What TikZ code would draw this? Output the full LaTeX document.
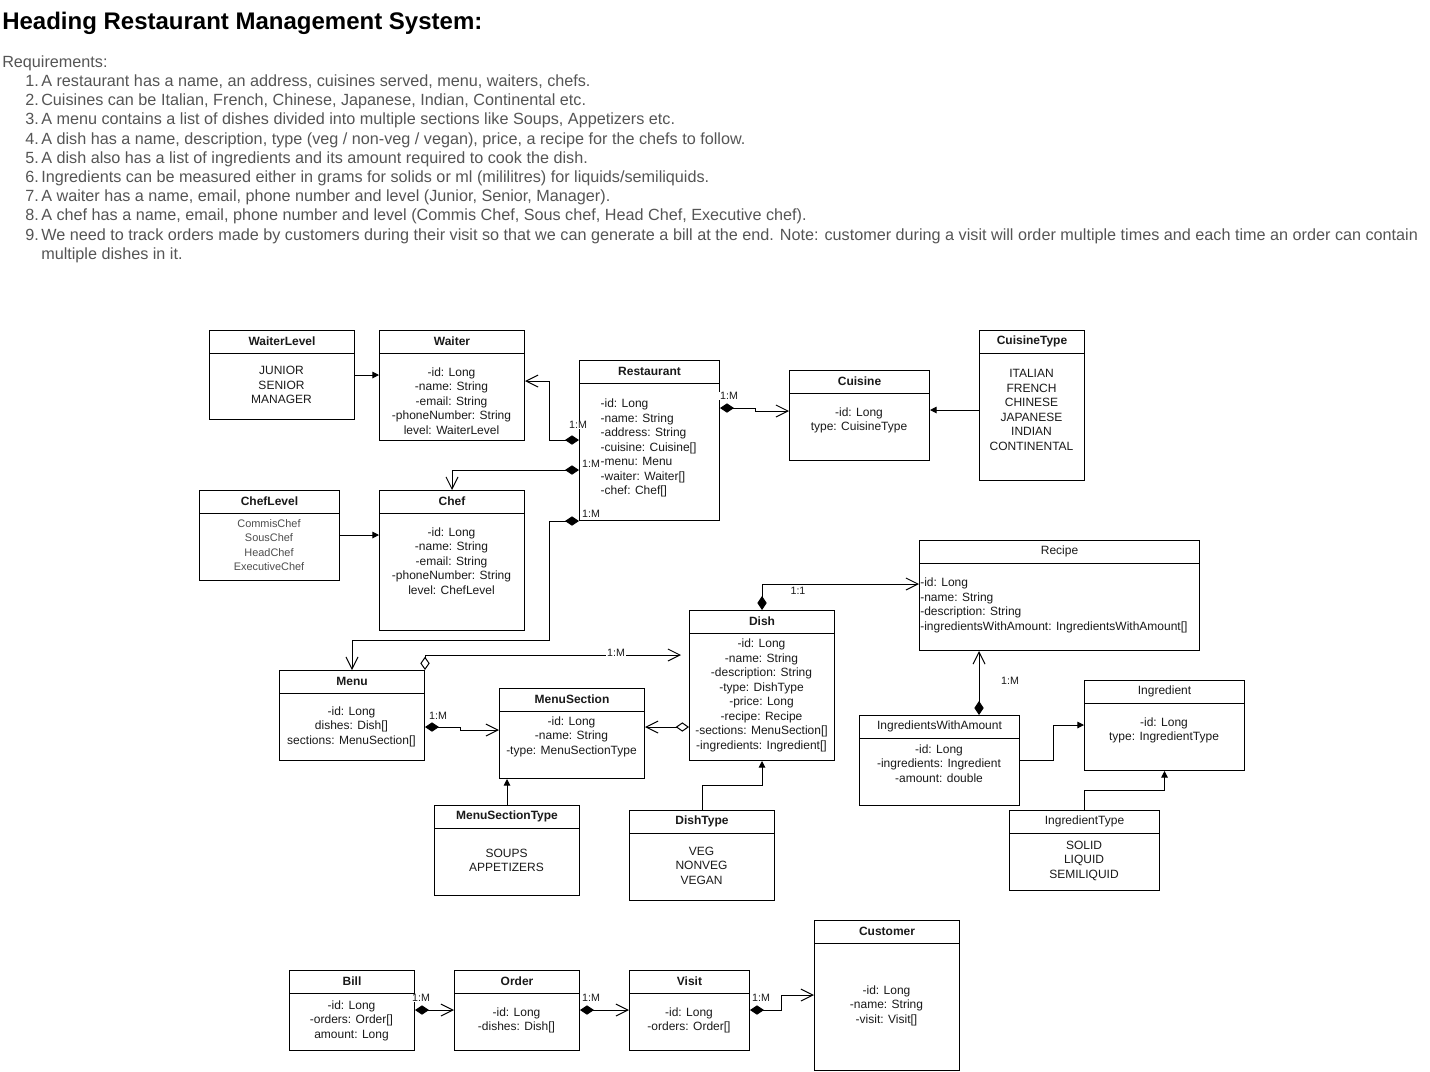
\documentclass[tikz,border=0pt]{standalone}
\usepackage{fontspec}
\setmainfont{Liberation Sans}
\usetikzlibrary{arrows.meta,calc}
\definecolor{reqgray}{HTML}{555555}
\definecolor{ink}{HTML}{1A1A1A}
\definecolor{lvlgray}{HTML}{4D4D4D}
\newcommand\umlbox[6]{%
  \node[box, anchor=north west, minimum width={(#4-#2)*0.75pt}, minimum height={(#5-#3)*0.75pt}] (#1) at (#2,#3) {};
  \draw[line width=0.75pt] ($(#1.north west)+(0,23)$) -- ($(#1.north east)+(0,23)$);
  \node[ttl] (#1-t) at ($(#1.north)+(0,11.5)$) {#6};
}
\begin{document}
\begin{tikzpicture}[x=0.75pt,y=-0.75pt,
  box/.style={draw, line width=0.75pt, inner sep=0pt, fill=white},
  ttl/.style={font=\fontsize{9}{10.9}\selectfont, text=ink, inner sep=0pt},
  txt/.style={font=\fontsize{9}{10.9}\selectfont, text=ink, align=center, inner sep=0pt},
  lvltxt/.style={font=\fontsize{8.2}{10.9}\selectfont, text=lvlgray, align=center, inner sep=0pt},
  lbl/.style={font=\fontsize{8}{9}\selectfont, text=ink, fill=white, inner sep=0.6pt},
  req/.style={font=\fontsize{12.15}{14}\selectfont, text=reqgray, anchor=base west, inner sep=0pt},
  conn/.style={line width=0.75pt, draw=black},
  oarr/.style={-{Straight Barb[length=9pt,width=9pt,line width=0.75pt]}},
  farr/.style={-{Triangle[length=5pt,width=5pt]}},
  comp/.style={{Diamond[length=10.5pt,width=7pt]}-{Straight Barb[length=9pt,width=9pt,line width=0.75pt]}},
  agg/.style={{Diamond[open,length=10pt,width=7pt,line width=0.75pt]}-{Straight Barb[length=9pt,width=9pt,line width=0.75pt]}}
]
\useasboundingbox[fill=white] (0,0) rectangle (1430,1071);

% ---------- heading and requirements ----------
\node[font=\fontsize{18}{20}\selectfont\bfseries, anchor=base west, inner sep=0pt] (head) at (2,29) {Heading Restaurant Management System:};
\node[req] (rq) at (2,67) {Requirements:};
\node[req] (n1) at (25,86) {1.}; \node[req] (r1) at (41,86) {A restaurant has a name, an address, cuisines served, menu, waiters, chefs.};
\node[req] (n2) at (25,105) {2.}; \node[req] (r2) at (41,105) {Cuisines can be Italian, French, Chinese, Japanese, Indian, Continental etc.};
\node[req] (n3) at (25,124) {3.}; \node[req] (r3) at (41,124) {A menu contains a list of dishes divided into multiple sections like Soups, Appetizers etc.};
\node[req] (n4) at (25,144) {4.}; \node[req] (r4) at (41,144) {A dish has a name, description, type (veg / non-veg / vegan), price, a recipe for the chefs to follow.};
\node[req] (n5) at (25,163) {5.}; \node[req] (r5) at (41,163) {A dish also has a list of ingredients and its amount required to cook the dish.};
\node[req] (n6) at (25,182) {6.}; \node[req] (r6) at (41,182) {Ingredients can be measured either in grams for solids or ml (mililitres) for liquids/semiliquids.};
\node[req] (n7) at (25,201) {7.}; \node[req] (r7) at (41,201) {A waiter has a name, email, phone number and level (Junior, Senior, Manager).};
\node[req] (n8) at (25,220) {8.}; \node[req] (r8) at (41,220) {A chef has a name, email, phone number and level (Commis Chef, Sous chef, Head Chef, Executive chef).};
\node[req] (n9) at (25,240) {9.}; \node[req] (r9) at (41,240) {We need to track orders made by customers during their visit so that we can generate a bill at the end. Note: customer during a visit will order multiple times and each time an order can contain};
\node[req] (r9b) at (41,259) {multiple dishes in it.};

% ---------- classes ----------
\umlbox{wlvl}{209}{330}{354}{419}{\textbf{WaiterLevel}}
\node[txt] (wlvl-b) at (281.5,385) {JUNIOR\\SENIOR\\MANAGER};

\umlbox{waiter}{379}{330}{524}{440}{\textbf{Waiter}}
\node[txt] (waiter-b) at (451.5,401) {-id: Long\\-name: String\\-email: String\\-phoneNumber: String\\level: WaiterLevel};

\umlbox{rest}{579}{360}{719}{520}{\textbf{Restaurant}}
\node[txt, align=left] (rest-b) at (648.5,448) {-id: Long\\-name: String\\-address: String\\-cuisine: Cuisine[]\\-menu: Menu\\-waiter: Waiter[]\\-chef: Chef[]};

\umlbox{cuisine}{789}{370}{929}{460}{\textbf{Cuisine}}
\node[txt] (cuisine-b) at (859,420.5) {-id: Long\\type: CuisineType};

\umlbox{ctype}{979}{330}{1084}{480}{\textbf{CuisineType}}
\node[txt] (ctype-b) at (1031.5,410) {ITALIAN\\FRENCH\\CHINESE\\JAPANESE\\INDIAN\\CONTINENTAL};

\umlbox{clvl}{199}{490}{339}{580}{\textbf{ChefLevel}}
\node[lvltxt] (clvl-b) at (269,545) {CommisChef\\SousChef\\HeadChef\\ExecutiveChef};

\umlbox{chef}{379}{490}{524}{630}{\textbf{Chef}}
\node[txt] (chef-b) at (451.5,561) {-id: Long\\-name: String\\-email: String\\-phoneNumber: String\\level: ChefLevel};

\umlbox{recipe}{919}{540}{1199}{650}{Recipe}
\node[txt, align=left, anchor=west] (recipe-b) at (920,605.5) {-id: Long\\-name: String\\-description: String\\-ingredientsWithAmount: IngredientsWithAmount[]};

\umlbox{dish}{689}{610}{834}{760}{\textbf{Dish}}
\node[txt] (dish-b) at (761.5,695.5) {-id: Long\\-name: String\\-description: String\\-type: DishType\\-price: Long\\-recipe: Recipe\\-sections: MenuSection[]\\-ingredients: Ingredient[]};

\umlbox{menu}{279}{670}{424}{760}{\textbf{Menu}}
\node[txt] (menu-b) at (351.5,726.5) {-id: Long\\dishes: Dish[]\\sections: MenuSection[]};

\umlbox{msec}{499}{688}{644}{778}{\textbf{MenuSection}}
\node[txt] (msec-b) at (571.5,736.5) {-id: Long\\-name: String\\-type: MenuSectionType};

\umlbox{mst}{434}{805}{579}{895}{\textbf{MenuSectionType}}
\node[txt] (mst-b) at (506.5,860.5) {SOUPS\\APPETIZERS};

\umlbox{dtype}{629}{810}{774}{900}{\textbf{DishType}}
\node[txt] (dtype-b) at (701.5,865.5) {VEG\\NONVEG\\VEGAN};

\umlbox{iwa}{859}{715}{1019}{805}{IngredientsWithAmount}
\node[txt] (iwa-b) at (939,763.5) {-id: Long\\-ingredients: Ingredient\\-amount: double};

\umlbox{ingr}{1084}{680}{1244}{770}{Ingredient}
\node[txt] (ingr-b) at (1164,730.5) {-id: Long\\type: IngredientType};

\umlbox{itype}{1009}{810}{1159}{890}{IngredientType}
\node[txt] (itype-b) at (1084,860.5) {SOLID\\LIQUID\\SEMILIQUID};

\umlbox{cust}{814}{920}{959}{1070}{\textbf{Customer}}
\node[txt] (cust-b) at (886.5,1005.5) {-id: Long\\-name: String\\-visit: Visit[]};

\umlbox{bill}{289}{970}{414}{1050}{\textbf{Bill}}
\node[txt] (bill-b) at (351.5,1020.5) {-id: Long\\-orders: Order[]\\amount: Long};

\umlbox{order}{454}{970}{579}{1050}{\textbf{Order}}
\node[txt] (order-b) at (516.5,1020.5) {-id: Long\\-dishes: Dish[]};

\umlbox{visit}{629}{970}{749}{1050}{\textbf{Visit}}
\node[txt] (visit-b) at (689,1020.5) {-id: Long\\-orders: Order[]};

% ---------- connectors ----------
\draw[conn,farr] ($(wlvl.north east)+(0,45)$) -- ($(waiter.north west)+(0,45)$);
\draw[conn,comp] ($(rest.north west)+(0,80)$) -- ++(-30,0) |- ($(waiter.north east)+(0,51)$);
\draw[conn,comp] ($(rest.north west)+(0,110)$) -| (chef.north);
\draw[conn,comp] (rest.south west) -- ++(-30,0) |- ($(menu.north)+(0,-30)$) -- (menu.north);
\draw[conn,comp] ($(rest.north east)+(0,48)$) -- ++(35,0) |- ($(cuisine.north west)+(0,41)$);
\draw[conn,farr] ($(ctype.north west)+(0,80)$) -- ($(cuisine.north east)+(0,40)$);
\draw[conn,farr] ($(clvl.north east)+(0,45)$) -- ($(chef.north west)+(0,45)$);
\draw[conn,comp] (dish.north) |- ($(recipe.north west)+(0,44)$);
\draw[conn,agg] (menu.north east) |- ($(dish.north west)+(-8,45)$);
\draw[conn,comp] ($(menu.north east)+(0,57)$) -- ++(35,0) |- ($(msec.north west)+(0,42)$);
\draw[conn,agg] ($(dish.north west)+(0,117)$) -- ($(msec.north east)+(0,39)$);
\draw[conn,farr] (mst.north) -- (mst.north |- msec.south);
\draw[conn,farr] (dtype.north) -- ++(0,-25) -| (dish.south);
\coordinate (iwatop) at ($(iwa.north west)+(120,0)$);
\draw[conn,comp] (iwatop) -- (iwatop |- recipe.south);
\draw[conn,farr] ($(iwa.north east)+(0,45)$) -- ++(33,0) |- ($(ingr.north west)+(0,45)$);
\draw[conn,farr] (itype.north) -- ++(0,-20) -| (ingr.south);
\draw[conn,comp] ($(bill.north east)+(0,40)$) -- ($(order.north west)+(0,40)$);
\draw[conn,comp] ($(order.north east)+(0,40)$) -- ($(visit.north west)+(0,40)$);
\draw[conn,comp] ($(visit.north east)+(0,40)$) -- ++(31,0) |- ($(cust.north west)+(0,75)$);

% ---------- multiplicity labels ----------
\node[lbl] (m1) at (578,425) {1:M};
\node[lbl] (m2) at (591,464) {1:M};
\node[lbl] (m3) at (591,514) {1:M};
\node[lbl] (m4) at (729,396) {1:M};
\node[lbl] (m5) at (616,653) {1:M};
\node[lbl] (m6) at (438,716) {1:M};
\node[lbl] (m7) at (798,591) {1:1};
\node[lbl] (m8) at (1010,681) {1:M};
\node[lbl] (m9) at (421,998) {1:M};
\node[lbl] (m10) at (591,998) {1:M};
\node[lbl] (m11) at (761,998) {1:M};
\end{tikzpicture}
\end{document}
